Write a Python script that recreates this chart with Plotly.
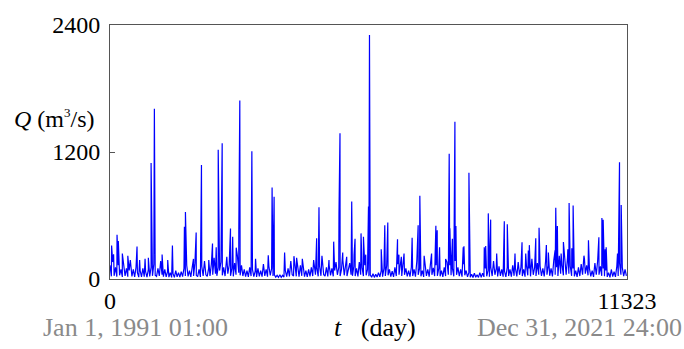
import plotly.graph_objects as go

# ---- data (daily discharge, m^3/s) ----
# baseline flow sampled every 30 days
base_step = 30
base_q = [
    130, 25, 160, 30, 110, 22, 130, 35, 90, 20, 120, 30, 100, 22, 80, 150, 25, 90, 20, 110,
    60, 18, 80, 20, 100, 22, 70, 18, 90, 25, 110, 30, 140, 35, 25, 100, 30, 170, 40, 22,
    90, 20, 70, 18, 60, 15, 50, 16, 80, 20, 60, 18, 70, 22, 100, 28, 130, 25, 80, 20,
    110, 28, 150, 35, 22, 90, 20, 120, 30, 170, 40, 25, 100, 30, 140, 40, 200, 50, 30, 110,
    80, 160, 35, 110, 28, 180, 50, 130, 30, 100, 25, 150, 40, 220, 60, 35, 130, 28, 90, 22,
    80, 20, 110, 28, 90, 22, 75, 20, 100, 25, 80, 22, 140, 30, 90, 22, 120, 35, 100, 28,
    40, 18, 35, 15, 40, 16, 35, 18, 80, 22, 100, 25, 170, 40, 28, 110, 25, 90, 22, 130,
    30, 100, 22, 80, 20, 90, 25, 110, 28, 140, 40, 100, 25, 120, 30, 170, 40, 28, 110, 25,
    130, 35, 100, 25, 80, 160, 40, 110, 28, 90, 180, 35, 110, 28, 95, 150, 40, 30, 120, 28,
    100, 25, 160, 40, 110, 28, 130, 35, 90, 25, 40, 16, 50, 15, 45, 18, 60, 20, 80, 22,
    100, 28, 130, 35, 90, 22, 75, 20, 110, 28, 140, 40, 120, 28, 180, 40, 100, 25, 80, 22,
    110, 28, 90, 22, 170, 40, 100, 25, 80, 20, 120, 30, 90, 22, 150, 40, 105, 28, 130, 30,
    100, 25, 80, 20, 110, 28, 160, 40, 130, 35, 100, 25, 170, 40, 110, 28, 90, 22, 140, 35,
    80, 20, 60, 16, 45, 14, 55, 16, 40, 15, 60, 16, 55, 20, 100, 25, 80, 22, 110, 28,
    170, 40, 100, 25, 120, 30, 90, 22, 75, 20, 110, 28, 90, 22, 130, 30, 100, 25, 160, 40,
    110, 28, 90, 22, 130, 35, 100, 25, 190, 40, 110, 28, 150, 40, 120, 30, 100, 25, 170, 40,
    130, 30, 100, 25, 180, 40, 110, 28, 220, 50, 130, 35, 160, 40, 200, 50, 120, 30, 100, 25,
    80, 20, 110, 28, 140, 40, 220, 50, 130, 35, 100, 25, 80, 20, 150, 40, 170, 40, 120, 30,
    100, 25, 80, 20, 60, 16, 90, 22, 70, 20, 120, 28, 150, 40, 110, 28, 90, 30,
]
base_days = list(range(0, base_step * len(base_q), base_step))

# flood peaks (day index, peak discharge)
peak_days = [
    35, 79, 154, 182, 270, 390, 445, 592, 649, 768, 840, 900, 972, 1141, 1264, 1367,
    1630, 1652, 1828, 1887, 2003, 2163, 2245, 2326, 2370, 2457, 2558, 2639, 2687, 2764,
    2821, 2843, 3107, 3188, 3466, 3550, 3594, 3824, 4028, 4087, 4212, 4460, 4526, 4577,
    4642, 4796, 4899, 5015, 5037, 5097, 5184, 5294, 5345, 5367, 5498, 5551, 5601, 5661,
    5683, 5940, 6018, 6084, 6297, 6328, 6381, 6440, 6617, 6749, 6786, 6880, 7043, 7137,
    7166, 7218, 7350, 7429, 7444, 7499, 7554, 7576, 7736, 7752, 7861, 8197, 8228, 8285,
    8337, 8469, 8636, 8701, 8870, 9024, 9105, 9162, 9184, 9325, 9397, 9544, 9557, 9601,
    9748, 9763, 9798, 9880, 9930, 10027, 10055, 10114, 10143, 10391, 10479, 10707,
    10773, 10801, 10845, 10867, 11115, 11159, 11196,
]
peak_q = [
    316, 234, 418, 360, 240, 220, 180, 307, 180, 190, 200, 1097, 1609, 232, 180, 316,
    493, 632, 190, 440, 1076, 180, 335, 300, 1221, 1283, 210, 477, 400, 296,
    450, 1686, 1206, 190, 225, 865, 778, 251, 216, 200, 190, 180, 384, 679,
    220, 180, 353, 617, 1376, 250, 210, 732, 230, 380, 431, 400, 230, 685,
    2306, 280, 508, 533, 375, 230, 210, 240, 390, 508, 787, 220, 240, 502,
    460, 300, 190, 1184, 480, 380, 1485, 500, 300, 310, 1004, 300, 311, 620,
    561, 240, 546, 518, 240, 347, 240, 270, 320, 384, 484, 270, 320, 250,
    270, 673, 500, 240, 350, 280, 719, 290, 694, 190, 366, 394,
    577, 560, 280, 300, 240, 1104, 700,
]

x_ticks = [0, 11323]
y_ticks = [0, 1200, 2400]
start_label = "Jan 1, 1991 01:00"
end_label = "Dec 31, 2021 24:00"

# merge baseline samples and peaks into one time-ordered series
pts = sorted(list(zip(base_days, base_q)) + list(zip(peak_days[:len(peak_q)], peak_q)))
days = [p[0] for p in pts]
flow = [p[1] for p in pts]

SERIF = "Liberation Serif"

fig = go.Figure()
fig.add_trace(go.Scatter(
    x=days, y=flow, mode="lines",
    line=dict(color="#0000ff", width=1.2),
    hoverinfo="skip", showlegend=False,
))

fig.update_layout(
    width=684, height=349,
    margin=dict(l=110, r=57, t=20, b=70),
    paper_bgcolor="white", plot_bgcolor="white",
    font=dict(family=SERIF, size=24, color="black"),
    xaxis=dict(
        range=[0, x_ticks[-1]], tickvals=x_ticks, ticktext=[str(v) for v in x_ticks],
        showgrid=False, zeroline=False, showline=True, mirror=True,
        linecolor="#555555", linewidth=1, ticks="",
        tickfont=dict(family=SERIF, size=24, color="black"),
    ),
    yaxis=dict(
        range=[0, y_ticks[-1]], tickvals=y_ticks, ticktext=[str(v) for v in y_ticks],
        showgrid=False, zeroline=False, showline=True, mirror=True,
        linecolor="#555555", linewidth=1, ticks="inside", ticklen=5,
        tickcolor="#555555", ticklabelstandoff=4,
        tickfont=dict(family=SERIF, size=24, color="black"),
    ),
)

fig.add_annotation(
    text="<i>Q</i> (m<sup><span style='font-size:13px'>3</span></sup>/s)",
    xref="paper", yref="paper",
    x=-0.025, y=0.63, xanchor="right", yanchor="middle",
    showarrow=False, font=dict(family=SERIF, size=24, color="black"),
)
fig.add_annotation(
    text=start_label, xref="paper", yref="paper", x=(135 - 110) / 517, y=-0.19,
    xanchor="center", yanchor="middle", showarrow=False,
    font=dict(family=SERIF, size=26, color="#8a8a8a"),
)
fig.add_annotation(
    text=end_label, xref="paper", yref="paper", x=(579 - 110) / 517, y=-0.19,
    xanchor="center", yanchor="middle", showarrow=False,
    font=dict(family=SERIF, size=26, color="#8a8a8a"),
)
fig.add_annotation(
    text="<i>t</i>   (day)", xref="paper", yref="paper", x=(375 - 110) / 517, y=-0.19,
    xanchor="center", yanchor="middle", showarrow=False,
    font=dict(family=SERIF, size=26, color="black"),
)

fig.write_html("out.html")
